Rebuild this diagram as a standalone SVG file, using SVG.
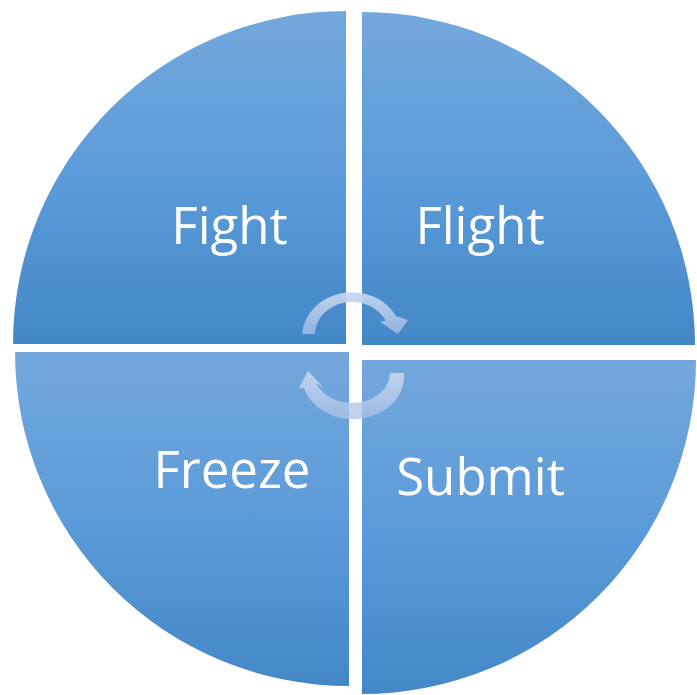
<svg xmlns="http://www.w3.org/2000/svg" width="697" height="695" viewBox="0 0 697 695">
  <defs>
    <linearGradient id="quad" x1="0" y1="0" x2="0" y2="1">
      <stop offset="0" stop-color="#74a8dc"/>
      <stop offset="0.5" stop-color="#5b9bd9"/>
      <stop offset="1" stop-color="#4487c7"/>
    </linearGradient>
    <linearGradient id="arr" x1="0" y1="0" x2="0" y2="1">
      <stop offset="0" stop-color="#c6d6ef" stop-opacity="0.95"/>
      <stop offset="1" stop-color="#a9c2e5" stop-opacity="0.75"/>
    </linearGradient>
  </defs>
  <style>
    .q { fill: url(#quad); }
    .lbl { font-family: "Open Sans", "Noto Sans", sans-serif; font-size: 51px; fill: #ffffff; text-anchor: middle; }
    .a { fill: url(#arr); }
  </style>
  <rect width="697" height="695" fill="#ffffff"/>
  <g id="fight">
    <path class="q" d="M346,344 L13,344 A333,333 0 0 1 346,11 Z"/>
    <text class="lbl" x="229.5" y="244">Fight</text>
  </g>
  <g id="flight">
    <path class="q" d="M362,345 L362,12 A333,333 0 0 1 695,345 Z"/>
    <text class="lbl" x="480" y="244">Flight</text>
  </g>
  <g id="freeze">
    <path class="q" d="M349,352 L349,686 A334,334 0 0 1 15,352 Z"/>
    <text class="lbl" x="232" y="488">Freeze</text>
  </g>
  <g id="submit">
    <path class="q" d="M362,360 L696,360 A334,334 0 0 1 362,694 Z"/>
    <text class="lbl" x="480.5" y="495">Submit</text>
  </g>
  <g id="connectors">
    <path class="a" d="M302,334 A50,45 0 0 1 396,316 L408,320 L398,334 L380,322 L385.5,320.5 A37,32 0 0 0 315,334 Z"/>
    <path class="a" d="M404,373 A51,43 0 0 1 304,387.7 L299,388 L308,371 L324,388 L316.3,383.3 A38,30 0 0 0 390,373 Z"/>
  </g>
</svg>
